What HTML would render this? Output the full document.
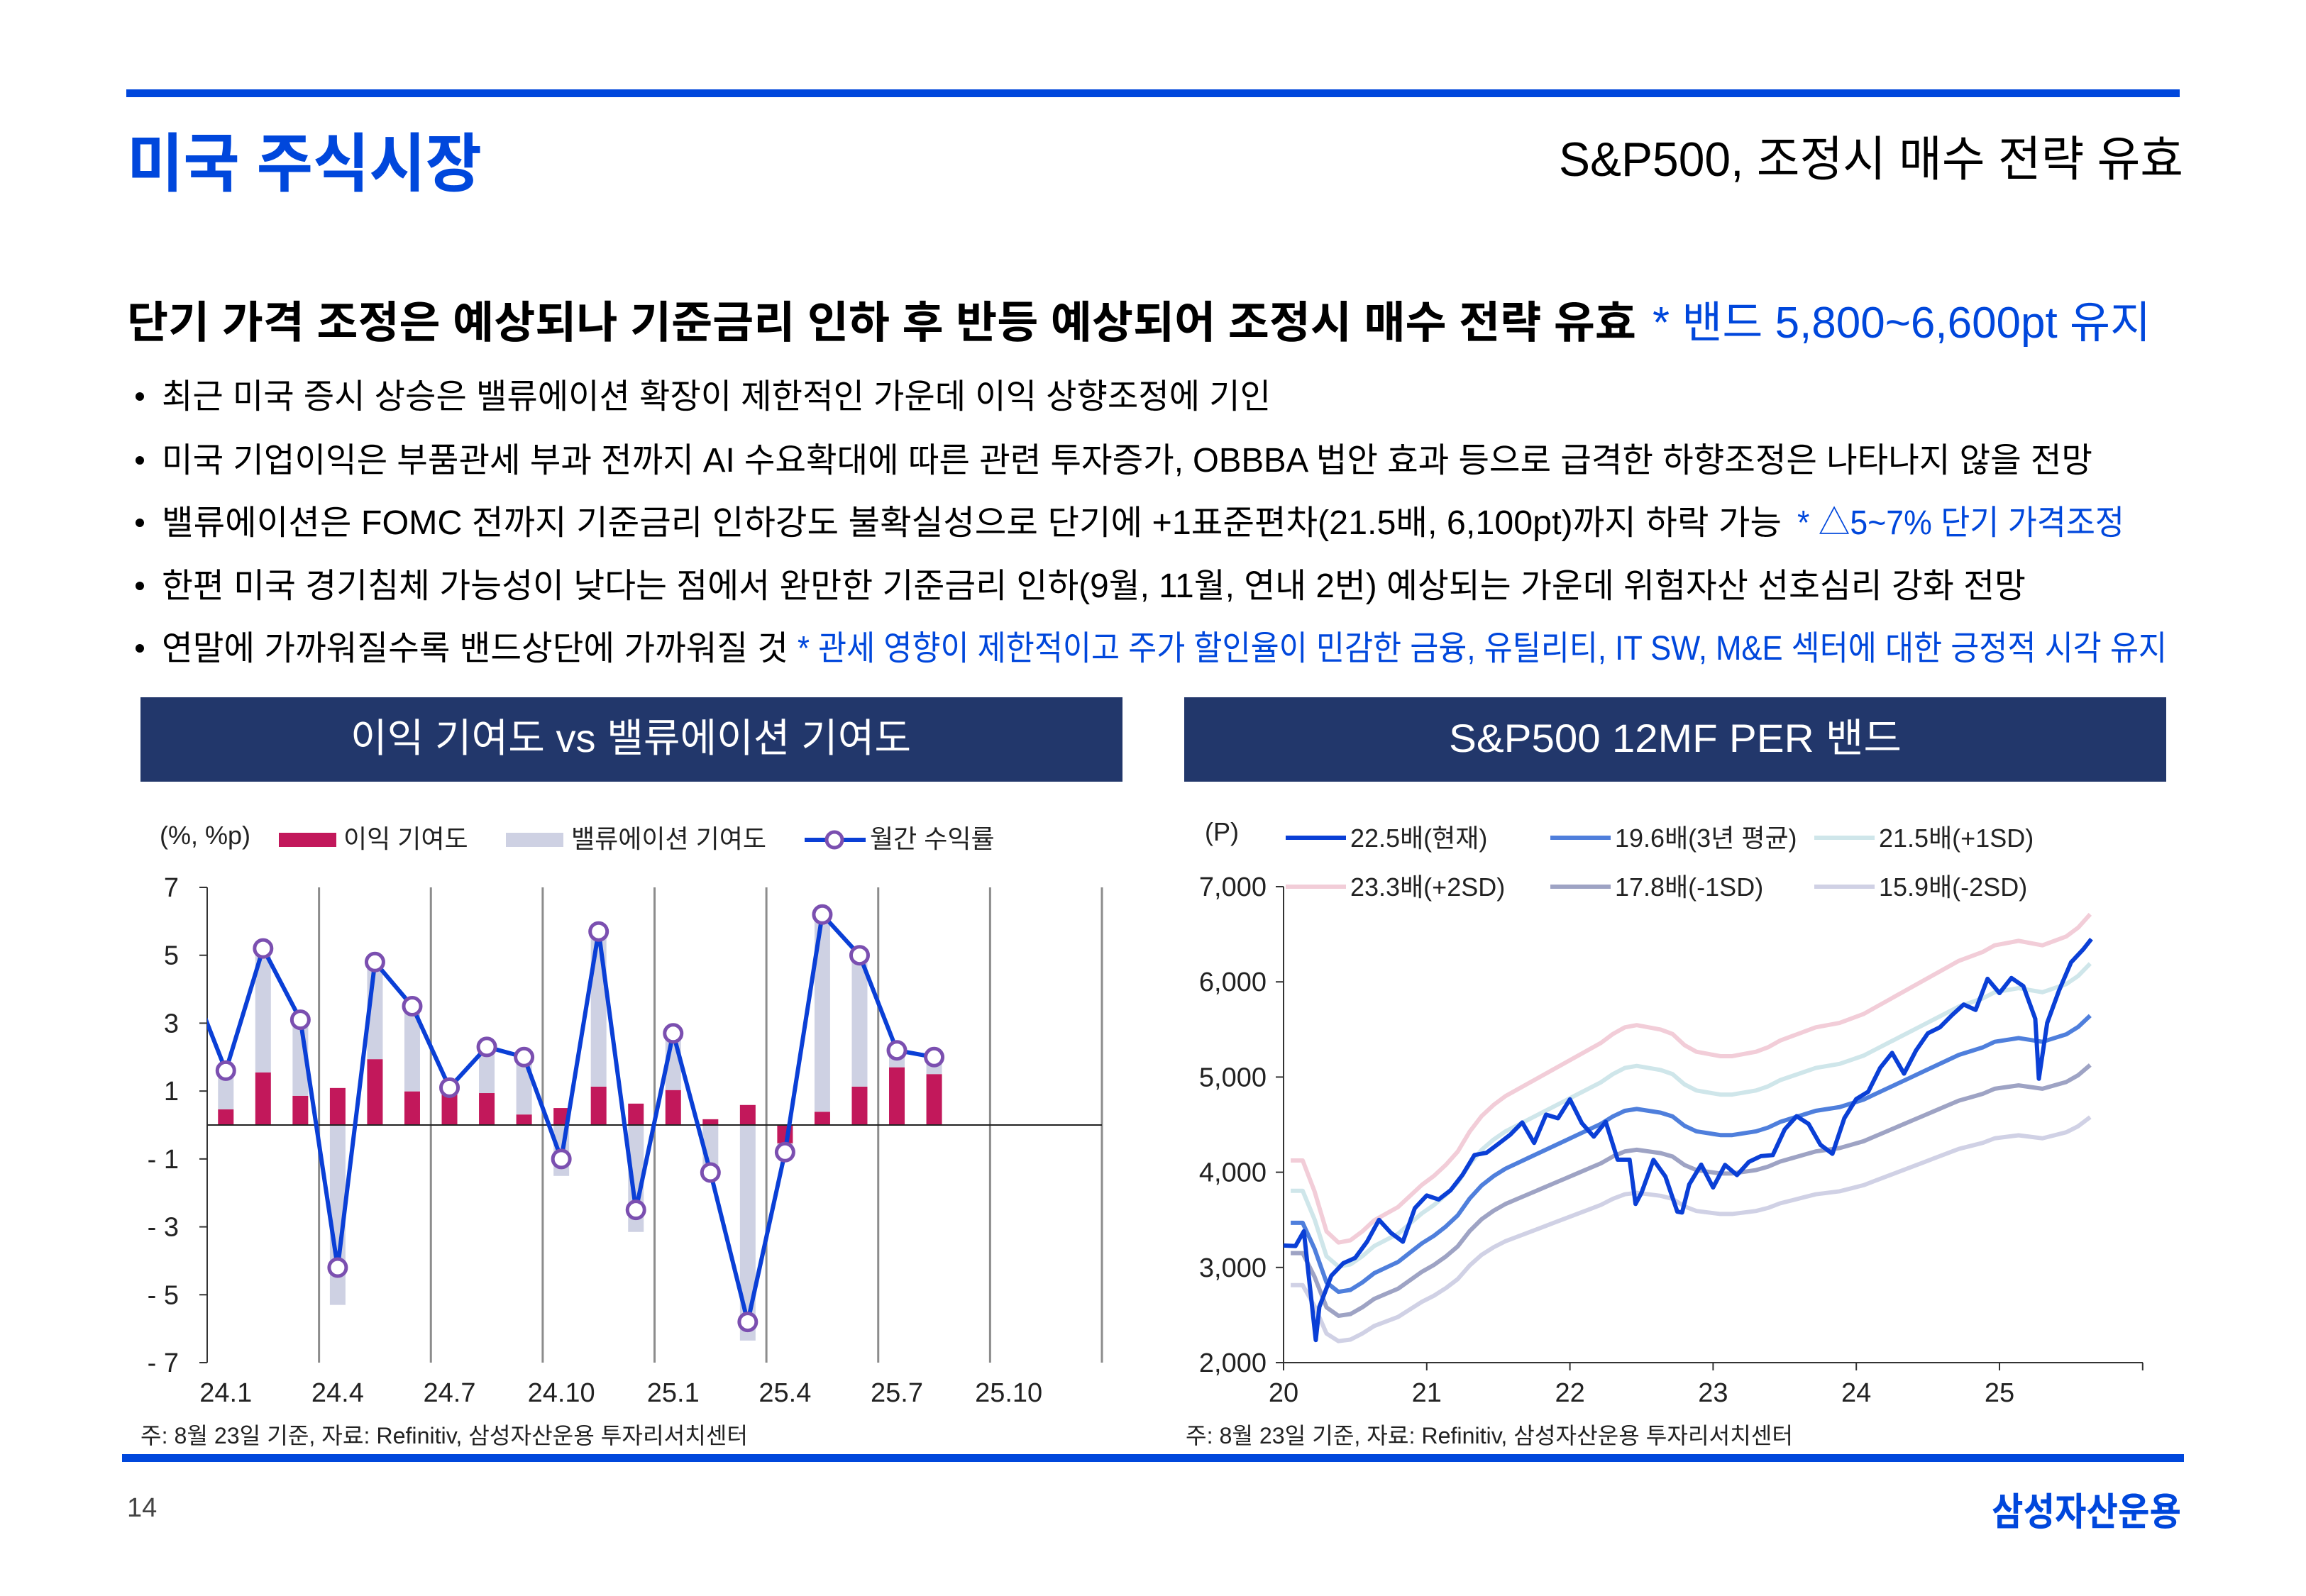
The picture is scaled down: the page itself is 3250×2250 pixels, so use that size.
<!DOCTYPE html>
<html><head><meta charset="utf-8">
<style>
html,body{margin:0;padding:0;background:#fff;}
svg{display:block;font-family:"Liberation Sans","Noto Sans CJK KR",sans-serif;}
</style></head>
<body>
<svg id="page" width="3250" height="2250" viewBox="0 0 3250 2250" xmlns="http://www.w3.org/2000/svg">
<rect x="0" y="0" width="3250" height="2250" fill="#fff"/>
<rect x="178" y="126" width="2894" height="11" fill="#0047dc"/>
<text x="179" y="262" font-size="90" font-weight="bold" fill="#0047dc" textLength="500" lengthAdjust="spacingAndGlyphs">미국 주식시장</text>
<text x="2197" y="248" font-size="68" fill="#000" textLength="880" lengthAdjust="spacingAndGlyphs">S&amp;P500, 조정시 매수 전략 유효</text>
<text x="179" y="476" font-size="62" font-weight="bold" fill="#000" textLength="2127" lengthAdjust="spacingAndGlyphs">단기 가격 조정은 예상되나 기준금리 인하 후 반등 예상되어 조정시 매수 전략 유효</text>
<text x="2329" y="476" font-size="62" fill="#0047dc" textLength="702" lengthAdjust="spacingAndGlyphs">* 밴드 5,800~6,600pt 유지</text>

<g font-size="48" fill="#000">
<circle cx="197" cy="559" r="6" fill="#000"/>
<text x="228" y="575" textLength="1563" lengthAdjust="spacingAndGlyphs">최근 미국 증시 상승은 밸류에이션 확장이 제한적인 가운데 이익 상향조정에 기인</text>
<circle cx="197" cy="649" r="6" fill="#000"/>
<text x="228" y="665" textLength="2721" lengthAdjust="spacingAndGlyphs">미국 기업이익은 부품관세 부과 전까지 AI 수요확대에 따른 관련 투자증가, OBBBA 법안 효과 등으로 급격한 하향조정은 나타나지 않을 전망</text>
<circle cx="197" cy="737" r="6" fill="#000"/>
<text x="228" y="753" textLength="2283" lengthAdjust="spacingAndGlyphs">밸류에이션은 FOMC 전까지 기준금리 인하강도 불확실성으로 단기에 +1표준편차(21.5배, 6,100pt)까지 하락 가능</text>
<text x="2533" y="753" fill="#0047dc" textLength="461" lengthAdjust="spacingAndGlyphs">* △5~7% 단기 가격조정</text>
<circle cx="197" cy="826" r="6" fill="#000"/>
<text x="228" y="842" textLength="2627" lengthAdjust="spacingAndGlyphs">한편 미국 경기침체 가능성이 낮다는 점에서 완만한 기준금리 인하(9월, 11월, 연내 2번) 예상되는 가운데 위험자산 선호심리 강화 전망</text>
<circle cx="197" cy="914" r="6" fill="#000"/>
<text x="228" y="930" textLength="883" lengthAdjust="spacingAndGlyphs">연말에 가까워질수록 밴드상단에 가까워질 것</text>
<text x="1124" y="930" fill="#0047dc" textLength="1930" lengthAdjust="spacingAndGlyphs">* 관세 영향이 제한적이고 주가 할인율이 민감한 금융, 유틸리티, IT SW, M&amp;E 섹터에 대한 긍정적 시각 유지</text>
</g>

<rect x="198" y="983" width="1384" height="119" fill="#22376b"/>
<text x="889" y="1060" font-size="56" fill="#fff" text-anchor="middle" textLength="790" lengthAdjust="spacingAndGlyphs">이익 기여도 vs 밸류에이션 기여도</text>
<rect x="1669" y="983" width="1384" height="119" fill="#22376b"/>
<text x="2361" y="1060" font-size="56" fill="#fff" text-anchor="middle" textLength="638" lengthAdjust="spacingAndGlyphs">S&amp;P500 12MF PER 밴드</text>

<g id="leftChart"></g>
<g id="rightChart"></g>

<text x="198" y="2035" font-size="32" fill="#222" textLength="856" lengthAdjust="spacingAndGlyphs">주: 8월 23일 기준, 자료: Refinitiv, 삼성자산운용 투자리서치센터</text>
<text x="1671" y="2035" font-size="32" fill="#222" textLength="856" lengthAdjust="spacingAndGlyphs">주: 8월 23일 기준, 자료: Refinitiv, 삼성자산운용 투자리서치센터</text>
<rect x="172" y="2050" width="2906" height="11" fill="#0047dc"/>
<text x="179" y="2138" font-size="38" fill="#444">14</text>
<text x="2807" y="2150" font-size="54" font-weight="bold" fill="#0047dc" textLength="267" lengthAdjust="spacingAndGlyphs">삼성자산운용</text>
</svg>

<script>
// ---------- Left chart data ----------
const monthLabels = ['24.1','24.2','24.3','24.4','24.5','24.6','24.7','24.8','24.9','24.10','24.11','24.12','25.1','25.2','25.3','25.4','25.5','25.6','25.7','25.8','25.9','25.10','25.11','25.12'];
const earningsContrib = [0.46,1.55,0.86,1.09,1.94,0.99,0.95,0.94,0.31,0.5,1.13,0.63,1.03,0.17,0.59,-0.54,0.39,1.13,1.7,1.5];
const valuationContrib = [1.1,3.6,2.2,-5.3,2.9,2.5,0.15,1.35,1.7,-1.5,4.6,-3.15,1.7,-1.6,-6.35,-0.3,5.8,3.9,0.5,0.5];
const monthlyReturn = [1.6,5.2,3.1,-4.2,4.8,3.5,1.1,2.3,2.0,-1.0,5.7,-2.5,2.7,-1.4,-5.8,-0.8,6.2,5.0,2.2,2.0];
const prevMonthReturn = [4.4];
const leftYTicks = [7,5,3,1,-1,-3,-5,-7];

// ---------- Right chart data ----------
const yearLabels = ['20','21','22','23','24','25'];
const rightYTicks = [2000,3000,4000,5000,6000,7000];
const fwdEps = [177,177,163,145,140,141,145,150,153,156,161,166,
170,175,181,190,197,202,206,209,212,215,218,221,
224,227,230,234,237,238,237,236,234,229,226,225,
224,224,225,226,228,231,233,235,237,238,239,241,
243,246,249,252,255,258,261,264,267,269,271,274,
275,276,275,274,276,278,282,288];
const bandMultiples = [23.3,21.5,19.6,17.8,15.9];
const bandNames = ['band-plus-2sd','band-plus-1sd','band-3yr-avg','band-minus-1sd','band-minus-2sd'];
const priceMonths = [0,1,1.7,2.7,3,4,5,6,7,8,9,10,11,12,13,14,15,16,17,18,19,20,21,22,23,24,25,26,27,28,29,29.5,30,31,32,33,33.4,34,35,36,37,38,39,40,41,42,43,44,45,46,47,48,49,50,51,52,53,54,55,56,57,58,59,60,61,62,63,63.3,64,65,66,67,67.7];
const priceValues = [3230,3225,3380,2237,2585,2912,3044,3100,3271,3500,3363,3270,3622,3756,3714,3811,3973,4181,4204,4298,4395,4523,4308,4605,4567,4766,4516,4374,4530,4132,4132,3667,3785,4130,3955,3586,3577,3872,4080,3840,4077,3970,4109,4169,4180,4450,4589,4508,4288,4194,4568,4770,4846,5096,5254,5036,5278,5460,5522,5648,5762,5705,6032,5882,6041,5955,5612,4982,5569,5912,6205,6339,6450];

const NS = 'http://www.w3.org/2000/svg';
function mk(parent, tag, attrs, text) {
  const el = document.createElementNS(NS, tag);
  for (const k in attrs) el.setAttribute(k, attrs[k]);
  if (text !== undefined) el.textContent = text;
  parent.appendChild(el);
  return el;
}

// ===== Left chart =====
(function () {
  const g = document.getElementById('leftChart');
  const X0 = 292, X1 = 1553, YT = 1251, YB = 1921;
  const slot = (X1 - X0) / monthLabels.length;
  const xL = i => X0 + (i + 0.5) * slot;
  const yL = v => (YT + YB) / 2 - v * (YB - YT) / 14;
  const barW = 22;

  let t;
  t = mk(g, 'text', {x: 225, y: 1190, 'font-size': 36, fill: '#222'}, '(%, %p)');
  
  
  let r = mk(g, 'rect', {x: 393, y: 1174, width: 81, height: 20, fill: '#c2185b'});
  
  
  t = mk(g, 'text', {x: 484, y: 1195, 'font-size': 36, fill: '#222'}, '이익 기여도');
  
  
  r = mk(g, 'rect', {x: 713, y: 1174, width: 81, height: 20, fill: '#ced1e3'});
  
  
  t = mk(g, 'text', {x: 805, y: 1195, 'font-size': 36, fill: '#222'}, '밸류에이션 기여도');
  
  
  let l = mk(g, 'line', {x1: 1134, y1: 1184, x2: 1220, y2: 1184, stroke: '#0a3fd6', 'stroke-width': 6});
  
  
  let c = mk(g, 'circle', {cx: 1176, cy: 1184, r: 11, fill: '#fff', stroke: '#7b4fb0', 'stroke-width': 5});
  
  
  t = mk(g, 'text', {x: 1226, y: 1195, 'font-size': 36, fill: '#222'}, '월간 수익률');
  
  

  for (let k = 3; k <= monthLabels.length; k += 3) {
    const gx = X0 + k * slot;
    l = mk(g, 'line', {x1: gx, y1: YT, x2: gx, y2: YB, stroke: '#8c8c8c', 'stroke-width': 3});
    
    
  }
  l = mk(g, 'line', {x1: X0, y1: YT, x2: X0, y2: YB, stroke: '#333', 'stroke-width': 2});
  
  
  leftYTicks.forEach(v => {
    const ty = yL(v);
    const tk = mk(g, 'line', {x1: X0 - 11, y1: ty, x2: X0, y2: ty, stroke: '#333', 'stroke-width': 2});
    
    
    const tl = mk(g, 'text', {x: 252, y: ty + 13, 'font-size': 38, fill: '#222', 'text-anchor': 'end'}, String(v).replace('-', '- '));
    
    
  });
  monthLabels.forEach((lab, i) => {
    if (i % 3 !== 0) return;
    const tl = mk(g, 'text', {x: xL(i), y: 1976, 'font-size': 38, fill: '#222', 'text-anchor': 'middle'}, lab);
    
    
  });
  earningsContrib.forEach((e, i) => {
    const y0 = yL(0), ye = yL(e);
    const b = mk(g, 'rect', {x: xL(i) - barW / 2, y: Math.min(y0, ye), width: barW, height: Math.abs(ye - y0), fill: '#c2185b'});
    
    
    const v = valuationContrib[i];
    const base = (Math.sign(v) === Math.sign(e)) ? e : 0;
    const ya = yL(base), yb = yL(base + v);
    const vb = mk(g, 'rect', {x: xL(i) - barW / 2, y: Math.min(ya, yb), width: barW, height: Math.abs(yb - ya), fill: '#ced1e3'});
    
    
  });
  l = mk(g, 'line', {x1: X0, y1: yL(0), x2: X1, y2: yL(0), stroke: '#222', 'stroke-width': 2});
  
  
  const defs = mk(g, 'defs', {});
  const cp = mk(defs, 'clipPath', {id: 'leftClip'});
  mk(cp, 'rect', {x: X0, y: YT - 40, width: X1 - X0, height: YB - YT + 80});
  const pts = [[xL(-1), yL(prevMonthReturn[0])]].concat(monthlyReturn.map((v, i) => [xL(i), yL(v)]));
  const pl = mk(g, 'polyline', {points: pts.map(p => p.join(',')).join(' '), fill: 'none', stroke: '#0a3fd6', 'stroke-width': 6, 'stroke-linejoin': 'round', 'clip-path': 'url(#leftClip)'});
  
  
  monthlyReturn.forEach((v, i) => {
    const m = mk(g, 'circle', {cx: xL(i), cy: yL(v), r: 12, fill: '#fff', stroke: '#7b4fb0', 'stroke-width': 5});
    
    
  });
})();

// ===== Right chart =====
(function () {
  const g = document.getElementById('rightChart');
  const X0 = 1809, XW = 201.8, YT = 1250, YB = 1921, X1 = 3020;
  const xR = t => X0 + t * XW;
  const yR = v => YB - (v - 2000) * (YB - YT) / 5000;
  const colors = ['#f2cdd8', '#cfe6ea', '#4f7fdc', '#9ea3c4', '#d0d1e5'];

  let t = mk(g, 'text', {x: 1698, y: 1185, 'font-size': 36, fill: '#222'}, '(P)');
  
  

  const legend = [
    {x: 1812, y: 1190, c: '#0a3fd6', label: '22.5배(현재)'},
    {x: 2185, y: 1190, c: '#4f7fdc', label: '19.6배(3년 평균)'},
    {x: 2557, y: 1190, c: '#cfe6ea', label: '21.5배(+1SD)'},
    {x: 1812, y: 1259, c: '#f2cdd8', label: '23.3배(+2SD)'},
    {x: 2185, y: 1259, c: '#9ea3c4', label: '17.8배(-1SD)'},
    {x: 2557, y: 1259, c: '#d0d1e5', label: '15.9배(-2SD)'}
  ];
  legend.forEach(it => {
    const ll = mk(g, 'line', {x1: it.x, y1: it.y - 9, x2: it.x + 85, y2: it.y - 9, stroke: it.c, 'stroke-width': 6});
    
    
    const lt = mk(g, 'text', {x: it.x + 91, y: it.y + 4, 'font-size': 36, fill: '#222'}, it.label);
    
    
  });

  let l = mk(g, 'line', {x1: X0, y1: YT, x2: X0, y2: YB, stroke: '#333', 'stroke-width': 2});
  
  
  l = mk(g, 'line', {x1: X0, y1: YB, x2: X1, y2: YB, stroke: '#333', 'stroke-width': 2});
  
  
  rightYTicks.forEach(v => {
    const ty = yR(v);
    const tk = mk(g, 'line', {x1: X0 - 11, y1: ty, x2: X0, y2: ty, stroke: '#333', 'stroke-width': 2});
    
    
    const tl = mk(g, 'text', {x: 1785, y: ty + 13, 'font-size': 38, fill: '#222', 'text-anchor': 'end'}, v.toLocaleString('en-US'));
    
    
  });
  for (let k = 0; k <= yearLabels.length; k++) {
    const tk = mk(g, 'line', {x1: xR(k), y1: YB, x2: xR(k), y2: YB + 11, stroke: '#333', 'stroke-width': 2});
    
    
    if (k < yearLabels.length) {
      const tl = mk(g, 'text', {x: xR(k), y: 1976, 'font-size': 38, fill: '#222', 'text-anchor': 'middle'}, yearLabels[k]);
      
      
    }
  }
  bandMultiples.forEach((m, bi) => {
    const pts = fwdEps.map((e, i) => [xR((i + 0.6) / 12), yR(e * m)]);
    const p = mk(g, 'polyline', {points: pts.map(q => q.join(',')).join(' '), fill: 'none', stroke: colors[bi], 'stroke-width': 6, 'stroke-linejoin': 'round'});
    
    
  });
  const pp = priceValues.map((v, i) => [xR(priceMonths[i] / 12), yR(v)]);
  const pl = mk(g, 'polyline', {points: pp.map(q => q.join(',')).join(' '), fill: 'none', stroke: '#0a3fd6', 'stroke-width': 6, 'stroke-linejoin': 'round'});
  
  
})();
</script>
</body></html>
